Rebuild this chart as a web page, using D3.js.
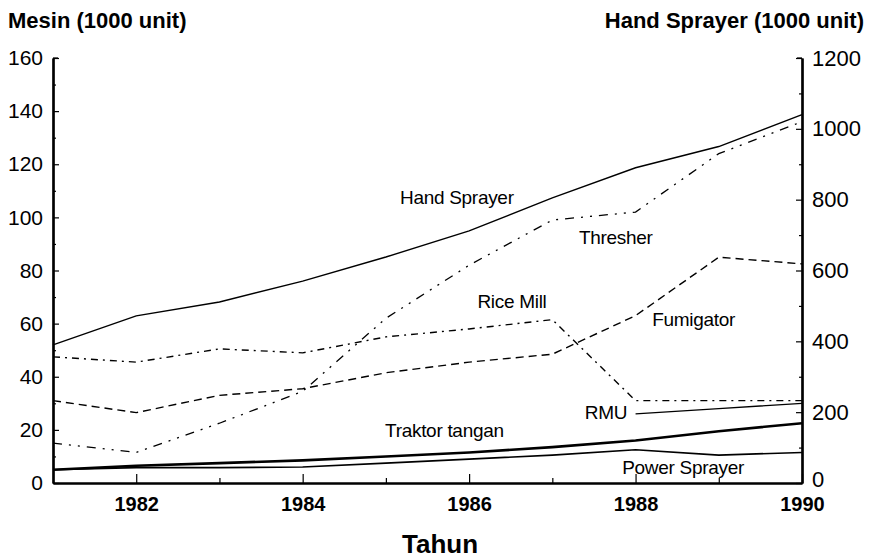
<!DOCTYPE html>
<html>
<head>
<meta charset="utf-8">
<script src="https://cdn.jsdelivr.net/npm/d3@7"></script>
<style>
  html, body { margin: 0; padding: 0; background: #fff; }
  svg { display: block; font-family: "Liberation Sans", Arial, sans-serif; }
</style>
</head>
<body>
<svg id="chart" width="877" height="560"></svg>
<script>
// ---- data ----
const years = [1981, 1982, 1983, 1984, 1985, 1986, 1987, 1988, 1989, 1990];
const handSprayer = [390, 472, 511, 570, 638, 712, 805, 890, 950, 1040]; // right axis
const thresher = [15, 11.5, 22.5, 34.5, 62, 82, 99, 102, 124, 136];
const riceMill = [47.5, 45.5, 50.5, 49, 55, 58, 61.5, 31, 31, 31];
const fumigator = [31, 26.5, 33, 35.5, 41.5, 45.5, 48.5, 63, 85, 82.5];
const rmu = [null, null, null, null, null, null, null, 26, 28, 30];
const traktorTangan = [5, 6.5, 7.5, 8.5, 10, 11.5, 13.5, 16, 19.5, 22.5];
const powerSprayer = [5, 5.8, 5.8, 6, 7.5, 9, 10.5, 12.5, 10.5, 11.5];

const leftTicks = [0, 20, 40, 60, 80, 100, 120, 140, 160];
const rightTicks = [0, 200, 400, 600, 800, 1000, 1200];
const xTicks = [1982, 1984, 1986, 1988, 1990];

const leftTitle = "Mesin (1000 unit)";
const rightTitle = "Hand Sprayer (1000 unit)";
const xTitle = "Tahun";

// ---- layout ----
const svg = d3.select("#chart");
const x = d3.scaleLinear().domain([1981, 1990]).range([53, 802]);
const yL = d3.scaleLinear().domain([0, 160]).range([483, 58]);
const yR = d3.scaleLinear().domain([0, 1200]).range([483, 58]);

// axes
const gLeft = svg.append("g").attr("transform", `translate(${x(1981)},0)`)
  .call(d3.axisLeft(yL).tickValues(leftTicks).tickSize(-6).tickPadding(10).tickFormat(d3.format("d")).tickSizeOuter(0));
gLeft.append("g").call(d3.axisLeft(yL).tickValues(d3.range(10, 160, 20)).tickSize(-3).tickFormat("").tickSizeOuter(0));

const gRight = svg.append("g").attr("transform", `translate(${x(1990)},0)`)
  .call(d3.axisRight(yR).tickValues(rightTicks).tickSize(-6).tickPadding(10).tickFormat(d3.format("d")).tickSizeOuter(0));
gRight.append("g").call(d3.axisRight(yR).tickValues(d3.range(100, 1200, 200)).tickSize(-3).tickFormat("").tickSizeOuter(0));

const gX = svg.append("g").attr("transform", `translate(0,${yL(0)})`)
  .call(d3.axisBottom(x).tickValues(xTicks).tickSize(-9).tickPadding(14).tickFormat(d3.format("d")).tickSizeOuter(0));
gX.append("g").call(d3.axisBottom(x).tickValues([1983, 1985, 1987, 1989]).tickSize(-5).tickFormat("").tickSizeOuter(0));

svg.selectAll(".domain").attr("stroke", "#000").attr("stroke-width", 2.2);
svg.selectAll(".tick line").attr("stroke", "#000").attr("stroke-width", 1.2);
gLeft.selectAll("text").attr("font-size", 21).attr("fill", "#000").attr("font-family", "Liberation Sans, Arial, sans-serif");
gRight.selectAll("text").attr("font-size", 22).attr("fill", "#000").attr("font-family", "Liberation Sans, Arial, sans-serif");
gX.selectAll("text").attr("font-size", 20).attr("font-weight", "bold").attr("fill", "#000").attr("font-family", "Liberation Sans, Arial, sans-serif");
gRight.selectAll(".tick").filter(d => d === 0).select("text").attr("dy", "0.15em");

// small top corner ticks
svg.append("line").attr("x1", x(1981)).attr("x2", x(1981) + 5).attr("y1", yL(160)).attr("y2", yL(160)).attr("stroke", "#000").attr("stroke-width", 1.2);
svg.append("line").attr("x1", x(1990) - 5).attr("x2", x(1990)).attr("y1", yR(1200)).attr("y2", yR(1200)).attr("stroke", "#000").attr("stroke-width", 1.2);

// ---- lines ----
const lineL = d3.line().defined(d => d[1] != null).x(d => x(d[0])).y(d => yL(d[1]));
const lineR = d3.line().defined(d => d[1] != null).x(d => x(d[0])).y(d => yR(d[1]));
const zip = arr => years.map((yv, i) => [yv, arr[i]]);

const series = [
  { data: handSprayer, gen: lineR, w: 1.4, dash: null },
  { data: thresher, gen: lineL, w: 1.3, dash: "9,7,2,7,2,7" },
  { data: riceMill, gen: lineL, w: 1.4, dash: "7,5,2,5" },
  { data: fumigator, gen: lineL, w: 1.4, dash: "8,5" },
  { data: rmu, gen: lineL, w: 1.3, dash: null },
  { data: traktorTangan, gen: lineL, w: 2.6, dash: null },
  { data: powerSprayer, gen: lineL, w: 1.6, dash: null }
];
series.forEach(s => {
  svg.append("path").datum(zip(s.data))
    .attr("fill", "none").attr("stroke", "#000")
    .attr("stroke-width", s.w)
    .attr("stroke-dasharray", s.dash)
    .attr("d", s.gen);
});

// ---- labels ----
const labels = [
  { t: "Hand Sprayer", yr: 1985.17, v: 107.5 },
  { t: "Thresher", yr: 1987.32, v: 92.5 },
  { t: "Rice Mill", yr: 1986.1, v: 68.5 },
  { t: "Fumigator", yr: 1988.2, v: 61.5 },
  { t: "RMU", yr: 1987.39, v: 26.5 },
  { t: "Traktor tangan", yr: 1984.99, v: 20 },
  { t: "Power Sprayer", yr: 1987.84, v: 5.8 }
];
labels.forEach(l => {
  svg.append("text").attr("x", x(l.yr)).attr("y", yL(l.v))
    .attr("dy", "0.35em").attr("font-size", 19).attr("fill", "#000")
    .attr("letter-spacing", "-0.3px")
    .text(l.t);
});

svg.append("text").attr("x", 8).attr("y", 28).attr("font-size", 22).attr("font-weight", "bold")
  .text(leftTitle);
svg.append("text").attr("x", 864).attr("y", 28).attr("text-anchor", "end").attr("font-size", 22)
  .attr("font-weight", "bold").text(rightTitle);
svg.append("text").attr("x", 440).attr("y", 553).attr("text-anchor", "middle").attr("font-size", 26)
  .attr("font-weight", "bold").text(xTitle);
</script>
</body>
</html>
